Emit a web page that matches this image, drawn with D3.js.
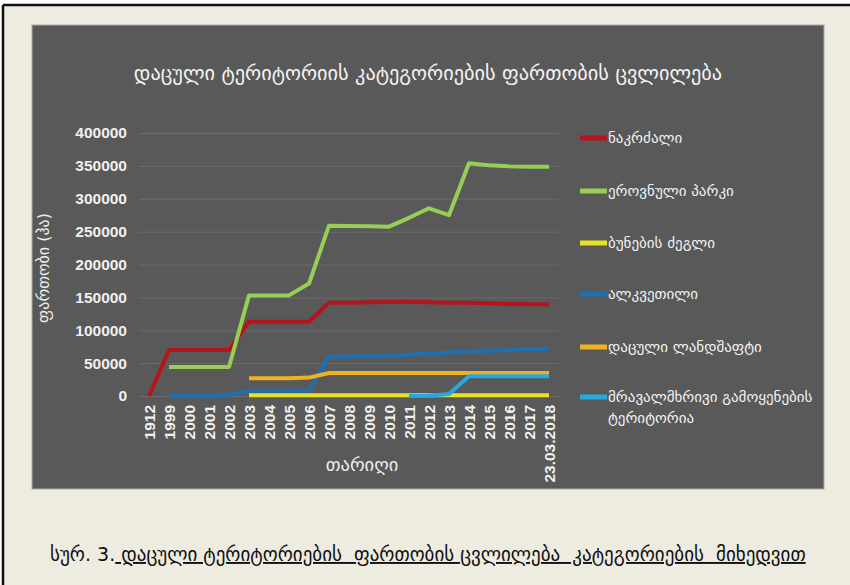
<!DOCTYPE html>
<html>
<head>
<meta charset="utf-8">
<script src="https://cdn.jsdelivr.net/npm/d3@7"></script>
<style>
  html, body { margin: 0; padding: 0; background: #ffffff; }
  svg { display: block; }
</style>
</head>
<body>
<svg id="chart" width="850" height="585"></svg>
<script>
// ---- data ----
const categories = ["1912","1999","2000","2001","2002","2003","2004","2005","2006","2007","2008","2009","2010","2011","2012","2013","2014","2015","2016","2017","23.03.2018"];
const seriesNames = ["ნაკრძალი","ეროვნული პარკი","ბუნების ძეგლი","ალკვეთილი","დაცული ლანდშაფტი","მრავალმხრივი გამოყენების ტერიტორია"];
const reserve      = [0,70000,70000,70000,70000,113000,113000,113000,113000,142000,142000,142500,143000,143500,142500,142000,142000,141000,140000,139500,139500];
const nationalPark = [null,44000,44000,44000,44000,153000,153000,153000,171000,259000,258500,258000,257500,271000,285500,275000,354000,351000,349500,348800,348800];
const naturalMonument = [null,null,null,null,null,1000,1000,1000,1000,1000,1000,1000,1000,1000,1000,1000,1000,1000,1000,1000,1000];
const managedReserve = [null,0,0,0,2000,8000,8000,8000,8500,60000,60000,60500,61000,63000,64500,66000,67500,69000,70000,71000,72000];
const protectedLandscape = [null,null,null,null,null,27000,27000,27000,28000,35000,35000,35000,35000,35000,35000,35000,35000,35000,35000,35000,35000];
const multipleUse = [null,null,null,null,null,null,null,null,null,null,null,null,null,0,500,3000,30000,30000,30000,30000,30000];
const yTicks = [0,50000,100000,150000,200000,250000,300000,350000,400000];
const chartTitle = "დაცული ტერიტორიის კატეგორიების ფართობის ცვლილება";
const yTitle = "ფართობი (ჰა)";
const xTitle = "თარიღი";
const captionLead = "სურ. 3.";
const captionText = " დაცული ტერიტორიების  ფართობის ცვლილება  კატეგორიების  მიხედვით";

const seriesValues = [reserve, nationalPark, naturalMonument, managedReserve, protectedLandscape, multipleUse];
const colors = ["#b5141c","#96cf55","#e4e424","#1f6fb3","#efb21f","#27a8de"];

// ---- drawing ----
const svg = d3.select("#chart");
const geo = "'DejaVu Sans', 'Noto Sans', sans-serif";

// page background + border
svg.append("rect").attr("x",0).attr("y",0).attr("width",850).attr("height",585).attr("fill","#ffffff");
svg.append("rect").attr("x",3).attr("y",5).attr("width",847).attr("height",580).attr("fill","#eeebe1");
svg.append("line").attr("x1",3).attr("x2",850).attr("y1",5).attr("y2",5).attr("stroke","#111").attr("stroke-width",2.5);
svg.append("line").attr("x1",3).attr("x2",3).attr("y1",5).attr("y2",585).attr("stroke","#111").attr("stroke-width",2.5);

// dark panel
svg.append("rect").attr("x",32).attr("y",25).attr("width",792).attr("height",464)
  .attr("fill","#595959").attr("stroke","#a9a9a4").attr("stroke-width",1);

// title
svg.append("text").attr("x",428).attr("y",80).attr("text-anchor","middle")
  .attr("font-family",geo).attr("font-size",20.3).attr("fill","#f2f2f2").text(chartTitle);

const x = d3.scalePoint().domain(categories).range([139,559]).padding(0.5);
const y = d3.scaleLinear().domain([0,400000]).range([396,133]);

// grid
const grid = svg.append("g").attr("transform","translate(139,0)")
  .call(d3.axisLeft(y).tickValues(yTicks).tickSize(-420).tickFormat(""));
grid.select(".domain").remove();
grid.selectAll("line").attr("stroke","#6b6b6b").attr("stroke-width",1);

// y axis labels
const yAxis = svg.append("g").attr("transform","translate(139,0)")
  .call(d3.axisLeft(y).tickValues(yTicks).tickSize(0).tickPadding(12).tickFormat(d3.format("d")));
yAxis.select(".domain").remove();
yAxis.selectAll("text").attr("font-family","'Liberation Sans', Arial, sans-serif")
  .attr("font-weight","bold").attr("font-size",15.5).attr("fill","#f0f0f0");

// x axis labels
const xAxis = svg.append("g").attr("transform","translate(0,396)")
  .call(d3.axisBottom(x).tickSize(0));
xAxis.select(".domain").remove();
xAxis.selectAll("text")
  .attr("transform","rotate(-90)")
  .attr("x",-9).attr("y",0).attr("dy","0.35em")
  .attr("text-anchor","end")
  .attr("font-family","'Liberation Sans', Arial, sans-serif")
  .attr("font-weight","bold").attr("font-size",15.5).attr("fill","#f0f0f0");

// axis titles
svg.append("text").attr("transform","translate(49,268) rotate(-90)").attr("text-anchor","middle")
  .attr("font-family",geo).attr("font-size",16).attr("fill","#eeeeee").text(yTitle);
svg.append("text").attr("x",362).attr("y",471).attr("text-anchor","middle")
  .attr("font-family",geo).attr("font-size",18.5).attr("fill","#eeeeee").text(xTitle);

// lines
const line = d3.line()
  .defined(d => d.v !== null)
  .x(d => x(d.c))
  .y(d => y(d.v));
seriesValues.forEach((vals, i) => {
  const pts = categories.map((c, j) => ({c: c, v: vals[j]}));
  svg.append("path").datum(pts).attr("d", line)
    .attr("fill","none").attr("stroke",colors[i]).attr("stroke-width",4)
    .attr("stroke-linejoin","round").attr("stroke-linecap","butt");
});

// legend
const legendY = [138, 191, 243, 294, 347, 397];
seriesNames.forEach((name, i) => {
  const g = svg.append("g").attr("transform",`translate(580,${legendY[i]})`);
  g.append("line").attr("x1",0).attr("x2",27).attr("y1",0).attr("y2",0)
    .attr("stroke",colors[i]).attr("stroke-width",5);
  if (i === 5) {
    const t = g.append("text").attr("font-family",geo).attr("font-size",15).attr("fill","#f2f2f2");
    t.append("tspan").attr("x",28).attr("y",5).text("მრავალმხრივი გამოყენების");
    t.append("tspan").attr("x",28).attr("y",26).text("ტერიტორია");
  } else {
    g.append("text").attr("x",28).attr("y",5).attr("font-family",geo).attr("font-size",15)
      .attr("fill","#f2f2f2").text(name);
  }
});

// caption
const cap = svg.append("text").attr("x",50).attr("y",561)
  .attr("font-family",geo).attr("font-size",19).attr("fill","#111")
  .style("white-space","pre");
cap.append("tspan").text(captionLead);
cap.append("tspan").style("text-decoration","underline").text(captionText);
</script>
</body>
</html>
